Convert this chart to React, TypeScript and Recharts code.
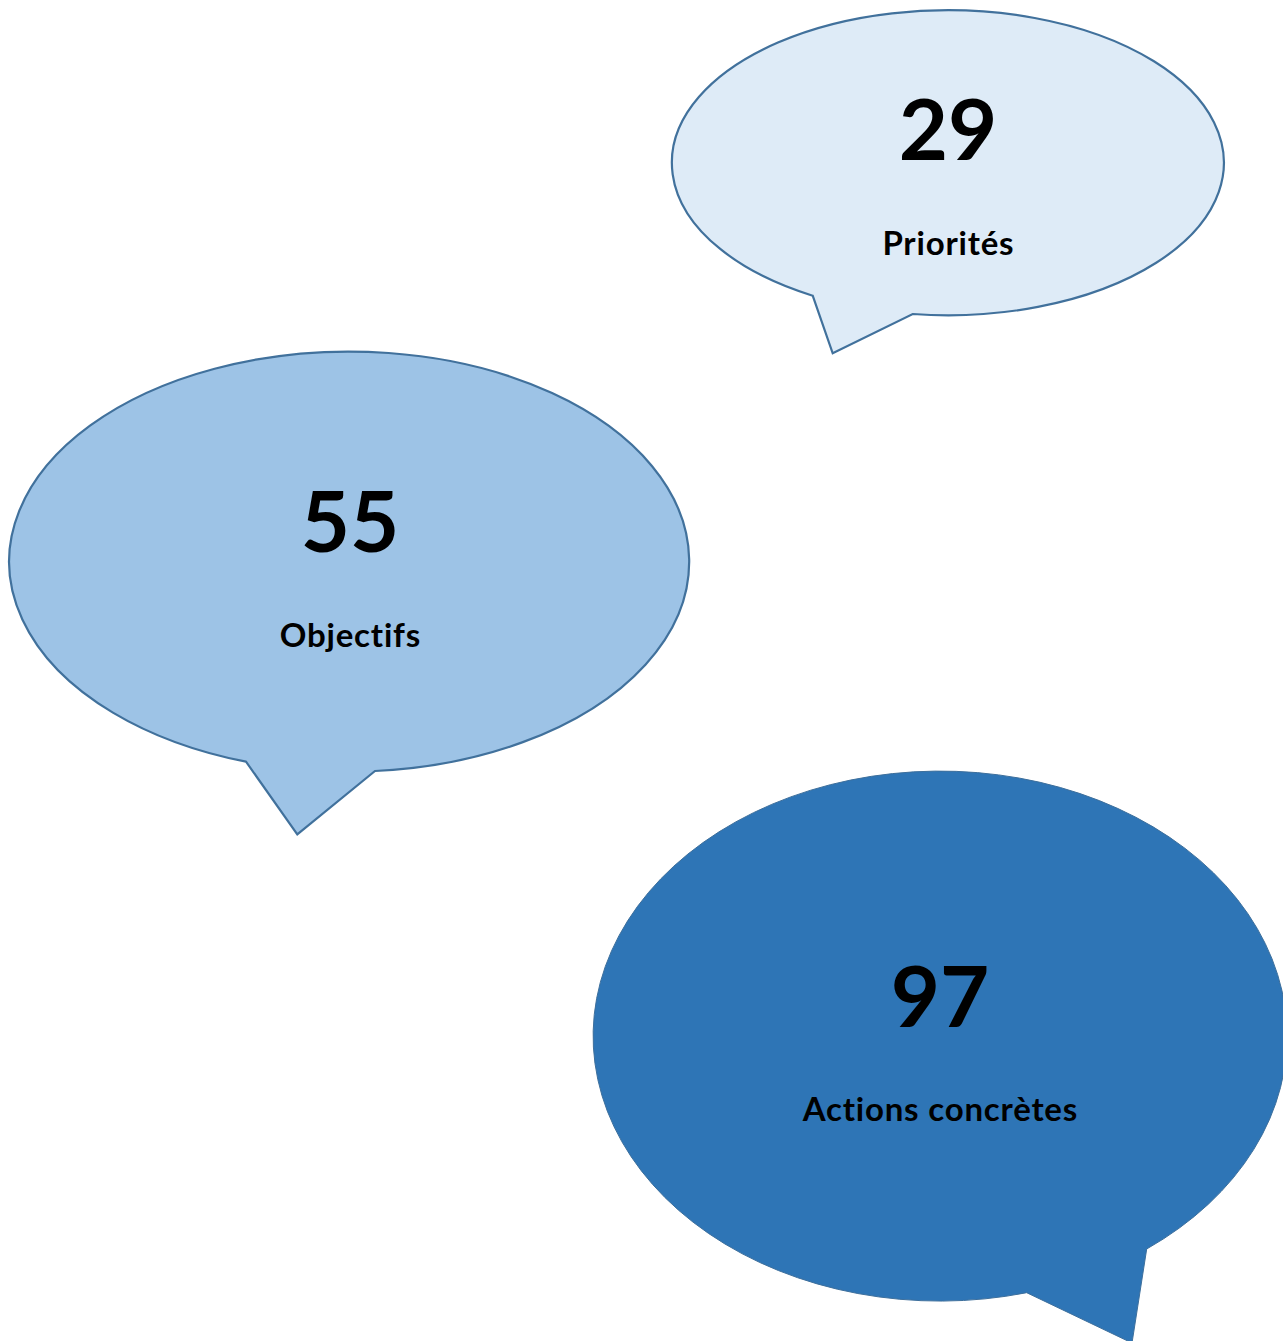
import React from "react";
import { ScatterChart, Scatter, XAxis, YAxis } from "recharts";

const CATEGORIES = ["Priorités", "Objectifs", "Actions concrètes"];
const VALUES = [29, 55, 97];

const W = 1283;
const H = 1341;

// layout (chart units == pixels, domain matches size)
const LAYOUT = [
  {
    cx: 948, cy: 163.5, rx: 276, ry: 152.5,
    tailL: [812.7, 295.7], tip: [832.7, 353.3], tailR: [912.7, 314],
    fill: "#DEEBF7", stroke: "#41719C", sw: 2.2,
    valueY: 160, labelY: 255,
  },
  {
    cx: 350, cy: 561, rx: 340, ry: 210,
    tailL: [246, 761.7], tip: [297.3, 834.3], tailR: [375, 771],
    fill: "#9DC3E6", stroke: "#41719C", sw: 2.2,
    valueY: 552, labelY: 646.7,
  },
  {
    cx: 940, cy: 1036, rx: 347, ry: 265,
    tailL: [1026.7, 1292.7], tip: [1132, 1343], tailR: [1146.7, 1249],
    fill: "#2E75B6", stroke: "#3D6F9C", sw: 1,
    valueY: 1027, labelY: 1121,
  },
];

const data = CATEGORIES.map((name, i) => ({
  name,
  value: VALUES[i],
  x: LAYOUT[i].cx,
  y: LAYOUT[i].cy,
  idx: i,
}));

const FONT = "Lato, 'Open Sans', 'DejaVu Sans', sans-serif";

const Bubble = (props: any) => {
  const { cx, cy, payload } = props;
  if (cx == null || cy == null || !payload) return null;
  const L = LAYOUT[payload.idx];
  const k = 1; // pixels per unit
  const px = (x: number) => cx + (x - L.cx) * k;
  const py = (y: number) => cy + (y - L.cy) * k;
  const rx = L.rx * k;
  const ry = L.ry * k;
  const d =
    `M ${px(L.tailL[0])} ${py(L.tailL[1])} ` +
    `L ${px(L.tip[0])} ${py(L.tip[1])} ` +
    `L ${px(L.tailR[0])} ${py(L.tailR[1])} ` +
    `A ${rx} ${ry} 0 1 0 ${px(L.tailL[0])} ${py(L.tailL[1])} Z`;
  return (
    <g>
      <path d={d} fill={L.fill} stroke={L.stroke} strokeWidth={L.sw} strokeLinejoin="miter" />
      <text
        x={cx}
        y={py(L.valueY)}
        textAnchor="middle"
        fontFamily={FONT}
        fontWeight={700}
        fontSize={85}
        fill="#000000"
      >
        {payload.value}
      </text>
      <text
        x={cx + 0.4}
        y={py(L.labelY)}
        textAnchor="middle"
        fontFamily={FONT}
        fontWeight={700}
        fontSize={33}
        letterSpacing={0.8}
        style={{ fontVariantLigatures: "none" }}
        fill="#000000"
      >
        {payload.name}
      </text>
    </g>
  );
};

export default function App() {
  return (
    <div style={{ position: "absolute", left: 0, top: 0, width: W, height: H, background: "#ffffff" }}>
      <ScatterChart width={W} height={H} margin={{ top: 0, right: 0, bottom: 0, left: 0 }}>
        <XAxis type="number" dataKey="x" domain={[0, W]} hide />
        <YAxis type="number" dataKey="y" domain={[0, H]} reversed hide />
        <Scatter data={data} shape={Bubble} isAnimationActive={false} />
      </ScatterChart>
    </div>
  );
}
